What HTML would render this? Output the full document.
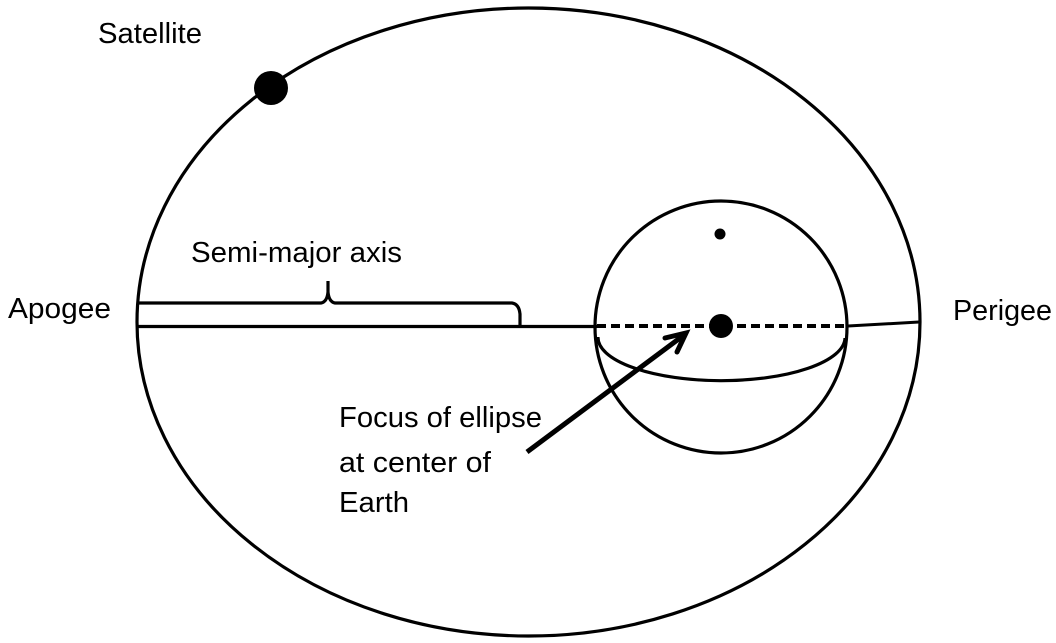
<!DOCTYPE html>
<html>
<head>
<meta charset="utf-8">
<style>
html,body{margin:0;padding:0;background:#fff;}
svg{display:block;}
text{font-family:"Liberation Sans","DejaVu Sans",sans-serif;font-size:29px;fill:#000;}
</style>
</head>
<body>
<svg width="1056" height="643" viewBox="0 0 1056 643" xmlns="http://www.w3.org/2000/svg">
  <!-- Orbit ellipse -->
  <ellipse cx="528.5" cy="322" rx="391.5" ry="314" fill="none" stroke="#000" stroke-width="3.2"/>
  <!-- Satellite -->
  <circle cx="271" cy="88" r="17" fill="#000"/>
  <!-- Main axis -->
  <line x1="137" y1="326.5" x2="597" y2="326.5" stroke="#000" stroke-width="3.2"/>
  <line x1="597" y1="326" x2="848" y2="326" stroke="#000" stroke-width="4" stroke-dasharray="9 5"/>
  <line x1="848" y1="326" x2="919" y2="322" stroke="#000" stroke-width="3"/>
  <!-- Bracket -->
  <path d="M138 303 L321 303 Q327 302 328 292 L328 281 M328 292 Q329 302 335 303 L512 303 Q519 304 520 314 L520 327" fill="none" stroke="#000" stroke-width="3.2"/>
  <!-- Earth sphere -->
  <circle cx="721" cy="327" r="126" fill="none" stroke="#000" stroke-width="3.2"/>
  <path d="M598 337 A123 43 0 0 0 845 338" fill="none" stroke="#000" stroke-width="3.2"/>
  <circle cx="720" cy="234" r="5.5" fill="#000"/>
  <circle cx="721" cy="326" r="12" fill="#000"/>
  <!-- Arrow -->
  <line x1="527" y1="452" x2="684" y2="335" stroke="#000" stroke-width="5"/>
  <path d="M665 338 L686 333 L677 352" fill="none" stroke="#000" stroke-width="5" stroke-linejoin="miter" stroke-linecap="round"/>
  <!-- Labels -->
  <text x="98" y="43" textLength="104" lengthAdjust="spacingAndGlyphs">Satellite</text>
  <text x="8" y="318" textLength="103" lengthAdjust="spacingAndGlyphs">Apogee</text>
  <text x="953" y="320" textLength="99" lengthAdjust="spacingAndGlyphs">Perigee</text>
  <text x="191" y="262" textLength="211" lengthAdjust="spacingAndGlyphs">Semi-major axis</text>
  <text x="339" y="427" textLength="203" lengthAdjust="spacingAndGlyphs">Focus of ellipse</text>
  <text x="339" y="472" textLength="152" lengthAdjust="spacingAndGlyphs">at center of</text>
  <text x="339" y="512" textLength="70" lengthAdjust="spacingAndGlyphs">Earth</text>
</svg>
</body>
</html>
